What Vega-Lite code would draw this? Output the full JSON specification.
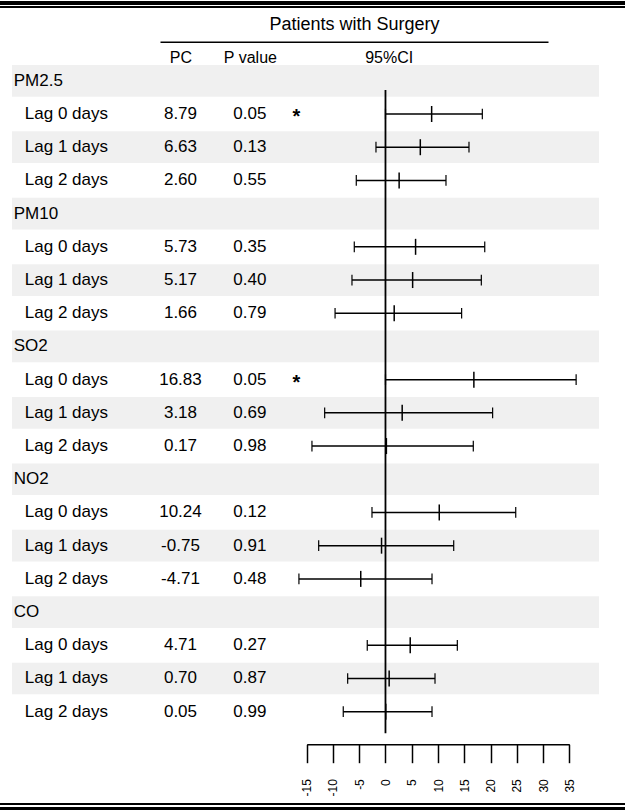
{
  "$schema": "https://vega.github.io/schema/vega-lite/v6.json",
  "width": 625,
  "height": 811,
  "autosize": "none",
  "padding": 0,
  "background": "white",
  "config": {
    "font": "Liberation Sans",
    "locale": {"number": {"decimal": ".", "thousands": ",", "grouping": [3], "currency": ["$", ""], "minus": "-"}},
    "view": {"stroke": null},
    "text": {"font": "Liberation Sans", "fontSize": 17, "color": "black"},
    "axis": {"labelFont": "Liberation Sans", "titleFont": "Liberation Sans", "labelColor": "black", "titleColor": "black", "domainColor": "black", "tickColor": "black", "grid": false}
  },
  "datasets": {
    "rows": [
      {"row": 0, "label": "PM2.5", "level": "group"},
      {"row": 1, "label": "Lag 0 days", "level": "lag", "PC": 8.79, "P": 0.05, "lower": 0.0, "upper": 18.44, "sig": true},
      {"row": 2, "label": "Lag 1 days", "level": "lag", "PC": 6.63, "P": 0.13, "lower": -1.81, "upper": 15.9, "sig": false},
      {"row": 3, "label": "Lag 2 days", "level": "lag", "PC": 2.60, "P": 0.55, "lower": -5.56, "upper": 11.52, "sig": false},
      {"row": 4, "label": "PM10", "level": "group"},
      {"row": 5, "label": "Lag 0 days", "level": "lag", "PC": 5.73, "P": 0.35, "lower": -5.94, "upper": 18.9, "sig": false},
      {"row": 6, "label": "Lag 1 days", "level": "lag", "PC": 5.17, "P": 0.40, "lower": -6.38, "upper": 18.25, "sig": false},
      {"row": 7, "label": "Lag 2 days", "level": "lag", "PC": 1.66, "P": 0.79, "lower": -9.6, "upper": 14.5, "sig": false},
      {"row": 8, "label": "SO2", "level": "group"},
      {"row": 9, "label": "Lag 0 days", "level": "lag", "PC": 16.83, "P": 0.05, "lower": 0.0, "upper": 36.3, "sig": true},
      {"row": 10, "label": "Lag 1 days", "level": "lag", "PC": 3.18, "P": 0.69, "lower": -11.58, "upper": 20.4, "sig": false},
      {"row": 11, "label": "Lag 2 days", "level": "lag", "PC": 0.17, "P": 0.98, "lower": -14.0, "upper": 16.72, "sig": false},
      {"row": 12, "label": "NO2", "level": "group"},
      {"row": 13, "label": "Lag 0 days", "level": "lag", "PC": 10.24, "P": 0.12, "lower": -2.57, "upper": 24.8, "sig": false},
      {"row": 14, "label": "Lag 1 days", "level": "lag", "PC": -0.75, "P": 0.91, "lower": -12.72, "upper": 12.99, "sig": false},
      {"row": 15, "label": "Lag 2 days", "level": "lag", "PC": -4.71, "P": 0.48, "lower": -16.48, "upper": 8.86, "sig": false},
      {"row": 16, "label": "CO", "level": "group"},
      {"row": 17, "label": "Lag 0 days", "level": "lag", "PC": 4.71, "P": 0.27, "lower": -3.47, "upper": 13.68, "sig": false},
      {"row": 18, "label": "Lag 1 days", "level": "lag", "PC": 0.70, "P": 0.87, "lower": -7.2, "upper": 9.43, "sig": false},
      {"row": 19, "label": "Lag 2 days", "level": "lag", "PC": 0.05, "P": 0.99, "lower": -8.04, "upper": 8.86, "sig": false}
    ]
  },
  "data": {"name": "rows"},
  "encoding": {
    "y": {"field": "row", "type": "quantitative", "scale": {"domain": [0, 19], "range": [80.8, 711.7], "nice": false, "zero": false}, "axis": null}
  },
  "layer": [
    {
      "transform": [{"filter": "datum.row % 2 == 0"}],
      "mark": {"type": "tick", "orient": "horizontal", "thickness": 31.7, "size": 587, "color": "#f0f0f0", "opacity": 1},
      "encoding": {
        "x": {"datum": "band", "type": "nominal", "scale": {"type": "band", "range": [12, 599], "paddingInner": 0, "paddingOuter": 0}, "axis": null}
      }
    },
    {"mark": {"type": "rule", "strokeWidth": 2.5, "color": "black"}, "encoding": {"y": {"datum": -2.343}}},
    {"mark": {"type": "rule", "strokeWidth": 1, "color": "black"}, "encoding": {"y": {"datum": -2.223}}},
    {"mark": {"type": "rule", "strokeWidth": 1, "color": "black"}, "encoding": {"y": {"datum": 21.783}}},
    {"mark": {"type": "rule", "strokeWidth": 2.5, "color": "black"}, "encoding": {"y": {"datum": 21.919}}},
    {
      "mark": {"type": "text", "align": "left", "baseline": "middle", "fontSize": 17},
      "encoding": {
        "x": {"field": "level", "type": "nominal", "scale": {"type": "point", "domain": ["group", "lag"], "range": [13.7, 24.8], "padding": 0}, "axis": null},
        "text": {"field": "label"}
      }
    },
    {
      "encoding": {
        "x": {
          "field": "col", "type": "nominal",
          "scale": {"type": "point", "domain": ["PC", "P", "sig", "CI", "CI_mid", "CI_end"], "range": [160, 548], "padding": 0.295, "align": 0.5},
          "axis": {"orient": "top", "offset": -41.7, "domain": true, "domainWidth": 1.5, "ticks": false, "tickSize": 0, "labelAngle": 0, "labelExpr": "datum.value == 'PC' ? 'PC' : datum.value == 'P' ? 'P value' : datum.value == 'CI' ? '95%CI' : ''", "labelPadding": -21, "labelBaseline": "alphabetic", "labelFontSize": 16, "labelAlign": "center", "labelOverlap": false, "title": "Patients with Surgery", "titleFontSize": 18, "titleFontWeight": "normal", "titlePadding": 12, "titleBaseline": "alphabetic"}
        }
      },
      "layer": [
        {
          "transform": [{"fold": ["PC", "P"], "as": ["col", "val"]}, {"filter": "isValid(datum.val)"}],
          "mark": {"type": "text", "align": "center", "baseline": "middle", "fontSize": 17},
          "encoding": {"text": {"field": "val", "type": "quantitative", "format": ".2f"}}
        },
        {
          "transform": [{"filter": "datum.sig"}],
          "mark": {"type": "text", "align": "center", "baseline": "middle", "fontSize": 20, "fontWeight": "bold", "dx": -22.8, "dy": 3},
          "encoding": {"x": {"datum": "sig", "type": "nominal"}, "text": {"value": "*"}}
        }
      ]
    },
    {
      "layer": [
        {
          "transform": [{"filter": "isValid(datum.lower)"}],
          "mark": {"type": "rule", "strokeWidth": 1.5, "color": "black"},
          "encoding": {
            "x": {"field": "lower", "type": "quantitative", "scale": {"domain": [-15, 35], "range": [306.7, 569.3], "nice": false, "zero": false},
              "axis": {"orient": "bottom", "offset": -66.7, "values": [-15, -10, -5, 0, 5, 10, 15, 20, 25, 30, 35], "domain": true, "domainWidth": 1.5, "ticks": true, "tickSize": 18.4, "tickWidth": 1.5, "labelAngle": -90, "labelAlign": "right", "labelBaseline": "middle", "labelPadding": 16, "labelFontSize": 12, "labelFlush": false, "labelOverlap": false, "title": null}},
            "x2": {"field": "upper"}
          }
        },
        {
          "mark": {"type": "rule", "strokeWidth": 1.8, "color": "black", "yOffset": 9.2, "y2Offset": 21.6},
          "encoding": {
            "x": {"datum": 0, "type": "quantitative", "scale": {"domain": [-15, 35], "range": [306.7, 569.3], "nice": false, "zero": false},
              "axis": {"orient": "bottom", "offset": -66.7, "values": [-15, -10, -5, 0, 5, 10, 15, 20, 25, 30, 35], "domain": true, "domainWidth": 1.5, "ticks": true, "tickSize": 18.4, "tickWidth": 1.5, "labelAngle": -90, "labelAlign": "right", "labelBaseline": "middle", "labelPadding": 16, "labelFontSize": 12, "labelFlush": false, "labelOverlap": false, "title": null}},
            "y": {"aggregate": "min", "field": "row", "type": "quantitative"},
            "y2": {"aggregate": "max", "field": "row"}
          }
        },
        {
          "transform": [{"filter": "isValid(datum.lower)"}],
          "mark": {"type": "tick", "orient": "vertical", "size": 10.7, "thickness": 1.2, "color": "black", "opacity": 1},
          "encoding": {"x": {"field": "lower", "type": "quantitative", "scale": {"domain": [-15, 35], "range": [306.7, 569.3], "nice": false, "zero": false},
              "axis": {"orient": "bottom", "offset": -66.7, "values": [-15, -10, -5, 0, 5, 10, 15, 20, 25, 30, 35], "domain": true, "domainWidth": 1.5, "ticks": true, "tickSize": 18.4, "tickWidth": 1.5, "labelAngle": -90, "labelAlign": "right", "labelBaseline": "middle", "labelPadding": 16, "labelFontSize": 12, "labelFlush": false, "labelOverlap": false, "title": null}}}
        },
        {
          "transform": [{"filter": "isValid(datum.upper)"}],
          "mark": {"type": "tick", "orient": "vertical", "size": 10.7, "thickness": 1.2, "color": "black", "opacity": 1},
          "encoding": {"x": {"field": "upper", "type": "quantitative", "scale": {"domain": [-15, 35], "range": [306.7, 569.3], "nice": false, "zero": false},
              "axis": {"orient": "bottom", "offset": -66.7, "values": [-15, -10, -5, 0, 5, 10, 15, 20, 25, 30, 35], "domain": true, "domainWidth": 1.5, "ticks": true, "tickSize": 18.4, "tickWidth": 1.5, "labelAngle": -90, "labelAlign": "right", "labelBaseline": "middle", "labelPadding": 16, "labelFontSize": 12, "labelFlush": false, "labelOverlap": false, "title": null}}}
        },
        {
          "transform": [{"filter": "isValid(datum.PC)"}],
          "mark": {"type": "tick", "orient": "vertical", "size": 16, "thickness": 1.5, "color": "black", "opacity": 1},
          "encoding": {"x": {"field": "PC", "type": "quantitative", "scale": {"domain": [-15, 35], "range": [306.7, 569.3], "nice": false, "zero": false},
              "axis": {"orient": "bottom", "offset": -66.7, "values": [-15, -10, -5, 0, 5, 10, 15, 20, 25, 30, 35], "domain": true, "domainWidth": 1.5, "ticks": true, "tickSize": 18.4, "tickWidth": 1.5, "labelAngle": -90, "labelAlign": "right", "labelBaseline": "middle", "labelPadding": 16, "labelFontSize": 12, "labelFlush": false, "labelOverlap": false, "title": null}}}
        }
      ]
    }
  ],
  "resolve": {"scale": {"x": "independent"}, "axis": {"x": "independent"}}
}
